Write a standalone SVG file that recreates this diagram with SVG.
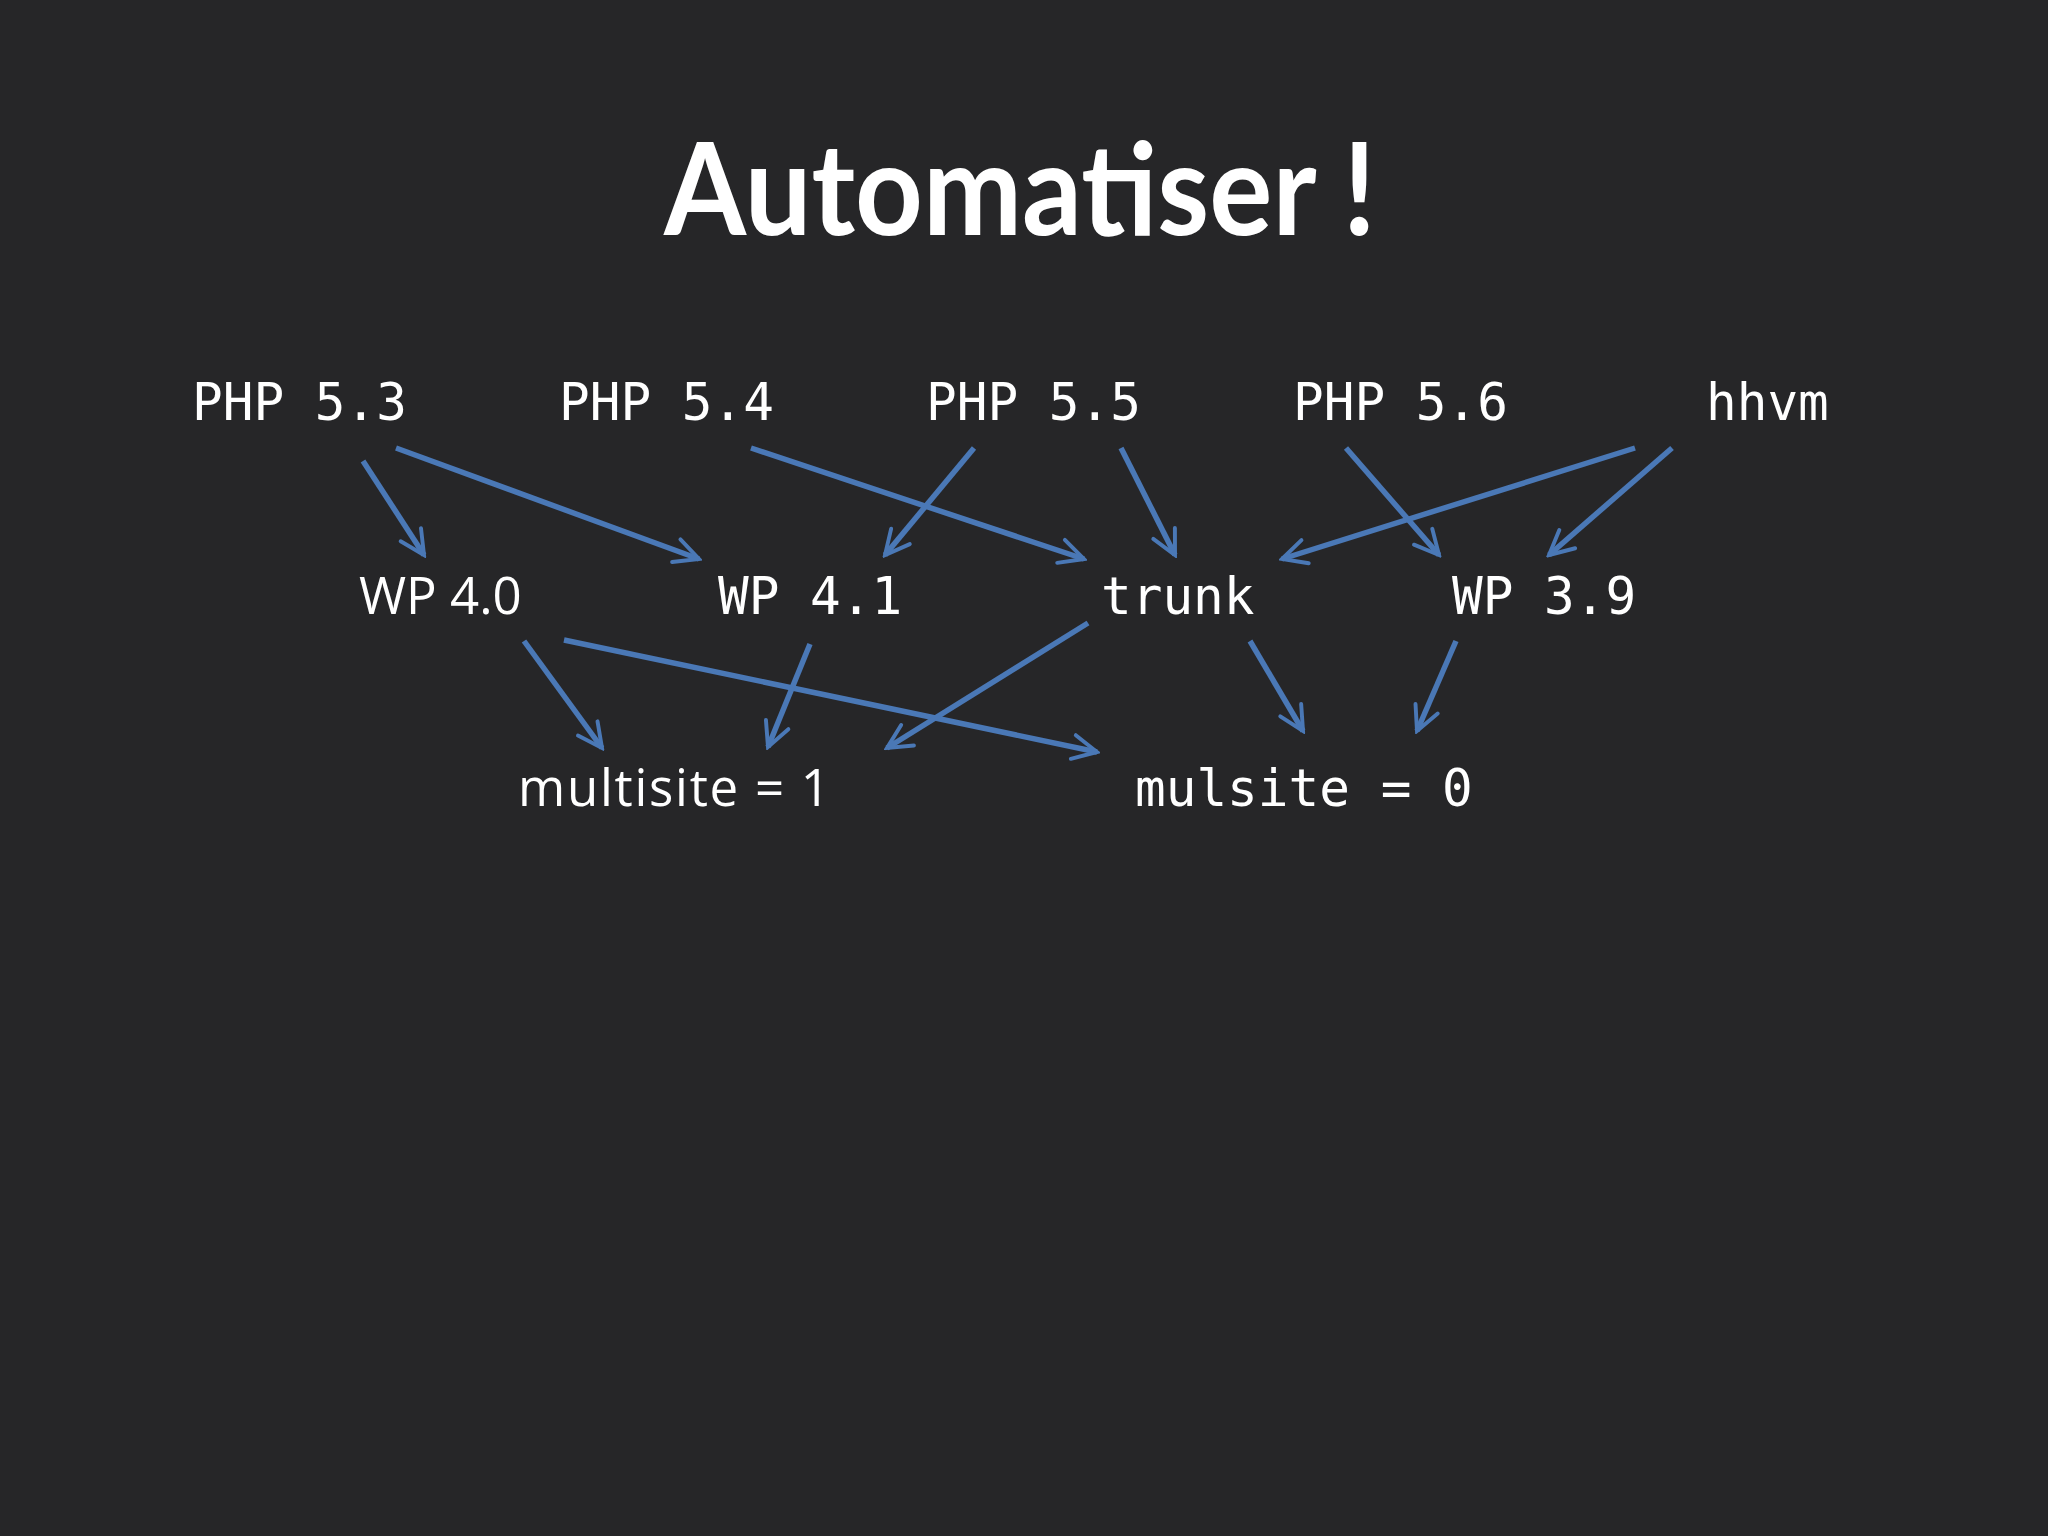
<svg xmlns="http://www.w3.org/2000/svg" width="2048" height="1536" viewBox="0 0 2048 1536">
<style>
.t{font-family:"DejaVu Sans Mono","Liberation Mono",monospace;font-size:51px;fill:#fff}
.p{font-family:"Open Sans","DejaVu Sans",sans-serif;font-size:51px;fill:#fff}
.c line{stroke:#4a78b6;stroke-width:5.5;marker-end:url(#a)}
</style>
<defs><marker id="a" viewBox="0 0 10 10" refX="9" refY="5" markerWidth="5.5" markerHeight="5.5" orient="auto" markerUnits="strokeWidth"><path d="M1,1 L9,5 L1,9" fill="none" stroke="#4a78b6" stroke-width="1.3" stroke-linecap="round"/></marker></defs>
<rect width="2048" height="1536" fill="#262628"/>
<text x="664" y="235" textLength="712" lengthAdjust="spacingAndGlyphs" font-family="Lato,Open Sans,sans-serif" font-weight="bold" font-size="128" fill="#fff">Automatiser !</text>
<g id="php53"><text class="t" x="192" y="420">PHP 5.3</text></g>
<g id="php54"><text class="t" x="559" y="420">PHP 5.4</text></g>
<g id="php55"><text class="t" x="926" y="420">PHP 5.5</text></g>
<g id="php56"><text class="t" x="1293" y="420">PHP 5.6</text></g>
<g id="hhvm"><text class="t" x="1706" y="420">hhvm</text></g>
<g id="wp40"><text class="p" x="359" y="614">WP 4.0</text></g>
<g id="wp41"><text class="t" x="718" y="614">WP 4.1</text></g>
<g id="trunk"><text class="t" x="1101" y="614">trunk</text></g>
<g id="wp39"><text class="t" x="1452" y="614">WP 3.9</text></g>
<g id="ms1"><text class="p" x="518" y="806" textLength="312" lengthAdjust="spacing">multisite = 1</text></g>
<g id="ms0"><text class="t" x="1135" y="806">mulsite = 0</text></g>
<g class="c" id="connectors">
<line x1="363" y1="461" x2="424" y2="555"/>
<line x1="396" y1="448" x2="699" y2="559"/>
<line x1="751" y1="448" x2="1084" y2="559"/>
<line x1="974" y1="448" x2="885" y2="555"/>
<line x1="1121" y1="448" x2="1175" y2="555"/>
<line x1="1635" y1="448" x2="1282" y2="559"/>
<line x1="1346" y1="448" x2="1439" y2="555"/>
<line x1="1672" y1="448" x2="1549" y2="555"/>
<line x1="524" y1="641" x2="602" y2="748"/>
<line x1="564" y1="640" x2="1097" y2="752"/>
<line x1="810" y1="644" x2="768" y2="747"/>
<line x1="1088" y1="623" x2="887" y2="748"/>
<line x1="1250" y1="641" x2="1303" y2="731"/>
<line x1="1456" y1="641" x2="1417" y2="731"/>
</g>
</svg>
